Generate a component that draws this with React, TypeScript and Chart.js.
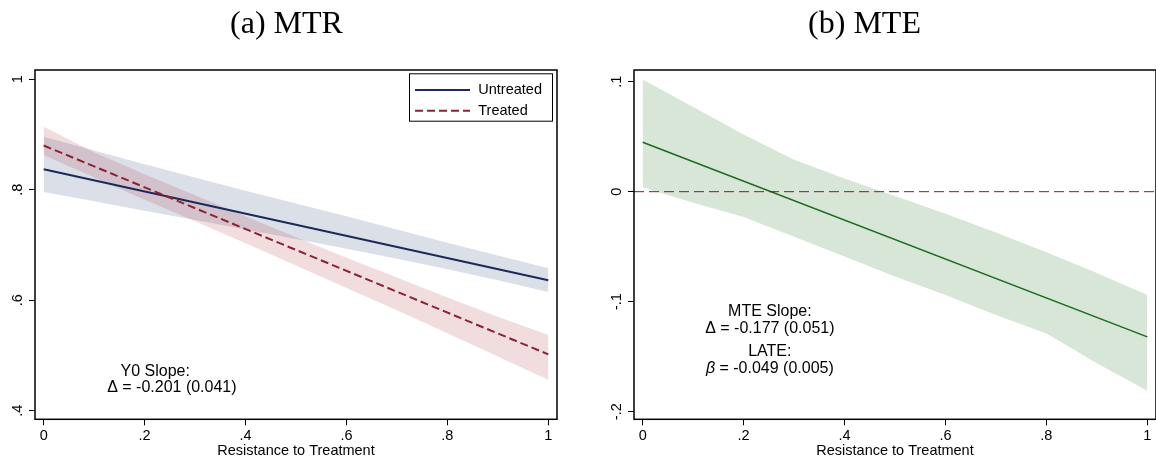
import React, { useEffect, useRef } from "react";
import { Chart, registerables } from "chart.js";

Chart.register(...registerables);

// ---------- data ----------
const bandX = [0, 0.1, 0.2, 0.3, 0.4, 0.5, 0.6, 0.7, 0.8, 0.9, 1];
const lineX = [0, 1];
const xTicks = [0, 0.2, 0.4, 0.6, 0.8, 1];
const mtrYTicks = [0.4, 0.6, 0.8, 1];
const mteYTicks = [-0.2, -0.1, 0, 0.1];

const untreatedLine = [0.837, 0.636];
const untreatedUpper = [0.896, 0.871, 0.846, 0.822, 0.798, 0.775, 0.752, 0.728, 0.704, 0.681, 0.658];
const untreatedLower = [0.796, 0.779, 0.762, 0.745, 0.728, 0.711, 0.693, 0.675, 0.656, 0.636, 0.615];

const treatedLine = [0.88, 0.502];
const treatedUpper = [0.914, 0.868, 0.828, 0.79, 0.752, 0.714, 0.677, 0.641, 0.605, 0.57, 0.537];
const treatedLower = [0.863, 0.822, 0.782, 0.743, 0.703, 0.663, 0.622, 0.582, 0.54, 0.498, 0.456];

const mteLine = [0.0449, -0.132];
const mteUpper = [0.102, 0.077, 0.052, 0.029, 0.012, -0.004, -0.02, -0.037, -0.055, -0.074, -0.094];
const mteLower = [0.004, -0.01, -0.023, -0.041, -0.059, -0.077, -0.094, -0.112, -0.129, -0.156, -0.181];
const zeroLine = [0, 0];

const seriesNames = ["Untreated", "Treated"];
const panelTitles = ["(a) MTR", "(b) MTE"];

// axis ranges
const X_MIN = -0.0172;
const X_MAX = 1.0172;
const MTR_Y_MIN = 0.3844;
const MTR_Y_MAX = 1.0167;
const MTE_Y_MIN = -0.2069;
const MTE_Y_MAX = 0.1106;

// ---------- styles ----------
const SANS = "'Liberation Sans', Arial, Helvetica, sans-serif";
const SERIF = "'Liberation Serif', 'Times New Roman', serif";
const NAVY = "#1b2a5a";
const CRANBERRY = "#8b2332";
const GREEN = "#1c6b1c";

const pts = (xs: number[], ys: number[]) => xs.map((x, i) => ({ x, y: ys[i] }));

function fmt(v: number): string {
  const r = Math.round(v * 1000) / 1000;
  if (r === 0) return "0";
  const s = String(Math.abs(r)).replace(/^0\./, ".");
  return (r < 0 ? "-" : "") + s;
}

type Seg = { t: string; italic?: boolean };
type Note = { x: number; y: number; segs: Seg[] };

function notesPlugin(notes: Note[], size: number) {
  return {
    id: "notes",
    afterDatasetsDraw(chart: any) {
      const { ctx } = chart;
      const xs = chart.scales.x;
      const ys = chart.scales.y;
      ctx.save();
      ctx.fillStyle = "#000";
      ctx.textBaseline = "middle";
      ctx.textAlign = "left";
      notes.forEach((n) => {
        const cx = xs.getPixelForValue(n.x);
        const cy = ys.getPixelForValue(n.y);
        const widths = n.segs.map((s) => {
          ctx.font = `${s.italic ? "italic " : ""}${size}px ${SANS}`;
          return ctx.measureText(s.t).width;
        });
        const total = widths.reduce((a, b) => a + b, 0);
        let x = cx - total / 2;
        n.segs.forEach((s, i) => {
          ctx.font = `${s.italic ? "italic " : ""}${size}px ${SANS}`;
          ctx.fillText(s.t, x, cy);
          x += widths[i];
        });
      });
      ctx.restore();
    },
  };
}

function titlePlugin(text: string) {
  return {
    id: "panelTitle",
    afterDraw(chart: any) {
      const { ctx } = chart;
      ctx.save();
      ctx.fillStyle = "#000";
      ctx.font = `32px ${SERIF}`;
      ctx.textAlign = "center";
      ctx.textBaseline = "middle";
      ctx.fillText(text, chart.width / 2 - 2.5, 25);
      ctx.restore();
    },
  };
}

const framePlugin = {
  id: "frame",
  afterDatasetsDraw(chart: any) {
    const { ctx, chartArea } = chart;
    const { left, top, right, bottom } = chartArea;
    ctx.save();
    ctx.strokeStyle = "#000";
    ctx.lineWidth = 1.5;
    ctx.strokeRect(left, top, right - left, bottom - top);
    ctx.restore();
  },
};

function boxLegendPlugin(labelIdx: number[]) {
  return {
    id: "boxLegend",
    afterDraw(chart: any) {
      const { ctx, chartArea } = chart;
      const w = 144;
      const h = 48.4;
      const bx = chartArea.right - 4 - w;
      const by = chartArea.top + 3.3;
      ctx.save();
      ctx.fillStyle = "#fff";
      ctx.fillRect(bx, by, w, h);
      ctx.strokeStyle = "#000";
      ctx.lineWidth = 1;
      ctx.strokeRect(bx + 0.5, by + 0.5, w - 1, h - 1);
      labelIdx.forEach((di, i) => {
        const ds = chart.data.datasets[di];
        const y = by + 16.7 + i * 20.7;
        ctx.beginPath();
        ctx.strokeStyle = ds.borderColor;
        ctx.lineWidth = ds.borderWidth;
        ctx.setLineDash(ds.borderDash || []);
        ctx.moveTo(bx + 6, y);
        ctx.lineTo(bx + 61, y);
        ctx.stroke();
        ctx.setLineDash([]);
        ctx.fillStyle = "#000";
        ctx.font = `14.5px ${SANS}`;
        ctx.textBaseline = "middle";
        ctx.textAlign = "left";
        ctx.fillText(ds.label, bx + 69.3, y);
      });
      ctx.restore();
    },
  };
}

function makeOptions(p: {
  yMin: number;
  yMax: number;
  yTicks: number[];
  yAxisWidth: number;
  rightPad: number;
  yLabelPad: number;
}) {
  const tickFont = { family: SANS, size: 14.5 };
  return {
    animation: false,
    responsive: false,
    maintainAspectRatio: false,
    devicePixelRatio: 1,
    layout: { padding: { left: 0, right: p.rightPad, top: 70, bottom: 0 } },
    plugins: {
      legend: { display: false },
      tooltip: { enabled: false },
      title: { display: false },
    },
    elements: { point: { radius: 0 }, line: { tension: 0 } },
    scales: {
      x: {
        type: "linear",
        min: X_MIN,
        max: X_MAX,
        afterBuildTicks: (s: any) => {
          s.ticks = xTicks.map((v) => ({ value: v }));
        },
        afterFit: (s: any) => {
          s.height = 43.7;
        },
        ticks: {
          callback: (v: any) => fmt(Number(v)),
          font: tickFont,
          color: "#000",
          padding: 2,
          minRotation: 0,
          maxRotation: 0,
          autoSkip: false,
        },
        grid: { drawOnChartArea: false, drawTicks: true, tickLength: 6, color: "#000", lineWidth: 1 },
        border: { display: false },
        title: {
          display: true,
          text: "Resistance to Treatment",
          color: "#000",
          font: tickFont,
          padding: { top: 0, bottom: 3.3 },
        },
      },
      y: {
        type: "linear",
        min: p.yMin,
        max: p.yMax,
        afterBuildTicks: (s: any) => {
          s.ticks = p.yTicks.map((v) => ({ value: v }));
        },
        afterFit: (s: any) => {
          s.width = p.yAxisWidth;
        },
        ticks: {
          callback: (v: any) => fmt(Number(v)),
          font: tickFont,
          color: "#000",
          padding: p.yLabelPad,
          minRotation: 90,
          maxRotation: 90,
          crossAlign: "center",
          autoSkip: false,
        },
        grid: { drawOnChartArea: false, drawTicks: true, tickLength: 6, color: "#000", lineWidth: 1 },
        border: { display: false },
      },
    },
  };
}

export default function App() {
  const leftRef = useRef<HTMLCanvasElement | null>(null);
  const rightRef = useRef<HTMLCanvasElement | null>(null);

  useEffect(() => {
    const band = (ys: number[], order: number, fill: any, bg: string) => ({
      data: pts(bandX, ys),
      borderWidth: 0,
      borderColor: "rgba(0,0,0,0)",
      backgroundColor: bg,
      fill,
      pointRadius: 0,
      order,
    });

    const blueFill = "rgba(25,55,110,0.155)";
    const redFill = "rgba(170,40,50,0.16)";
    const greenFill = "rgba(40,120,40,0.19)";

    const leftChart = new Chart(leftRef.current as HTMLCanvasElement, {
      type: "line",
      data: {
        datasets: [
          { label: seriesNames[0], data: pts(lineX, untreatedLine), borderColor: NAVY, borderWidth: 2, fill: false, pointRadius: 0, order: 1 },
          { label: seriesNames[1], data: pts(lineX, treatedLine), borderColor: CRANBERRY, borderWidth: 2, borderDash: [8, 4], fill: false, pointRadius: 0, order: 0 },
          { label: "u-lo", ...band(untreatedLower, 5, false, blueFill) },
          { label: "u-hi", ...band(untreatedUpper, 5, "-1", blueFill) },
          { label: "t-lo", ...band(treatedLower, 4, false, redFill) },
          { label: "t-hi", ...band(treatedUpper, 4, "-1", redFill) },
        ],
      },
      options: makeOptions({
        yMin: MTR_Y_MIN,
        yMax: MTR_Y_MAX,
        yTicks: mtrYTicks,
        yAxisWidth: 35,
        rightPad: 21,
        yLabelPad: 4.6,
      }) as any,
      plugins: [
        framePlugin,
        titlePlugin(panelTitles[0]),
        boxLegendPlugin([0, 1]),
        notesPlugin(
          [
            { x: 0.221, y: 0.47, segs: [{ t: "Y0 Slope:" }] },
            { x: 0.254, y: 0.441, segs: [{ t: "\u0394 = -0.201 (0.041)" }] },
          ],
          16
        ),
      ],
    });

    const rightChart = new Chart(rightRef.current as HTMLCanvasElement, {
      type: "line",
      data: {
        datasets: [
          { label: "MTE", data: pts(lineX, mteLine), borderColor: GREEN, borderWidth: 1.5, fill: false, pointRadius: 0, order: 1 },
          { label: "zero", data: pts([X_MIN, X_MAX], zeroLine), borderColor: "#7a1f2b", borderWidth: 1, borderDash: [10, 5], fill: false, pointRadius: 0, order: 0 },
          { label: "m-lo", ...band(mteLower, 5, false, greenFill) },
          { label: "m-hi", ...band(mteUpper, 5, "-1", greenFill) },
        ],
      },
      options: makeOptions({
        yMin: MTE_Y_MIN,
        yMax: MTE_Y_MAX,
        yTicks: mteYTicks,
        yAxisWidth: 56,
        rightPad: 0,
        yLabelPad: 2.2,
      }) as any,
      plugins: [
        framePlugin,
        titlePlugin(panelTitles[1]),
        notesPlugin(
          [
            { x: 0.252, y: -0.109, segs: [{ t: "MTE Slope:" }] },
            { x: 0.252, y: -0.124, segs: [{ t: "\u0394 = -0.177 (0.051)" }] },
            { x: 0.252, y: -0.1455, segs: [{ t: "LATE:" }] },
            { x: 0.252, y: -0.161, segs: [{ t: "\u03B2", italic: true }, { t: " = -0.049 (0.005)" }] },
          ],
          16
        ),
      ],
    });

    return () => {
      leftChart.destroy();
      rightChart.destroy();
    };
  }, []);

  return (
    <div style={{ position: "fixed", left: 0, top: 0, width: 1156, height: 463, background: "#fff", overflow: "hidden" }}>
      <canvas ref={leftRef} width={578} height={463} style={{ position: "absolute", left: 0, top: 0, width: 578, height: 463 }} />
      <canvas ref={rightRef} width={578} height={463} style={{ position: "absolute", left: 578, top: 0, width: 578, height: 463 }} />
    </div>
  );
}
